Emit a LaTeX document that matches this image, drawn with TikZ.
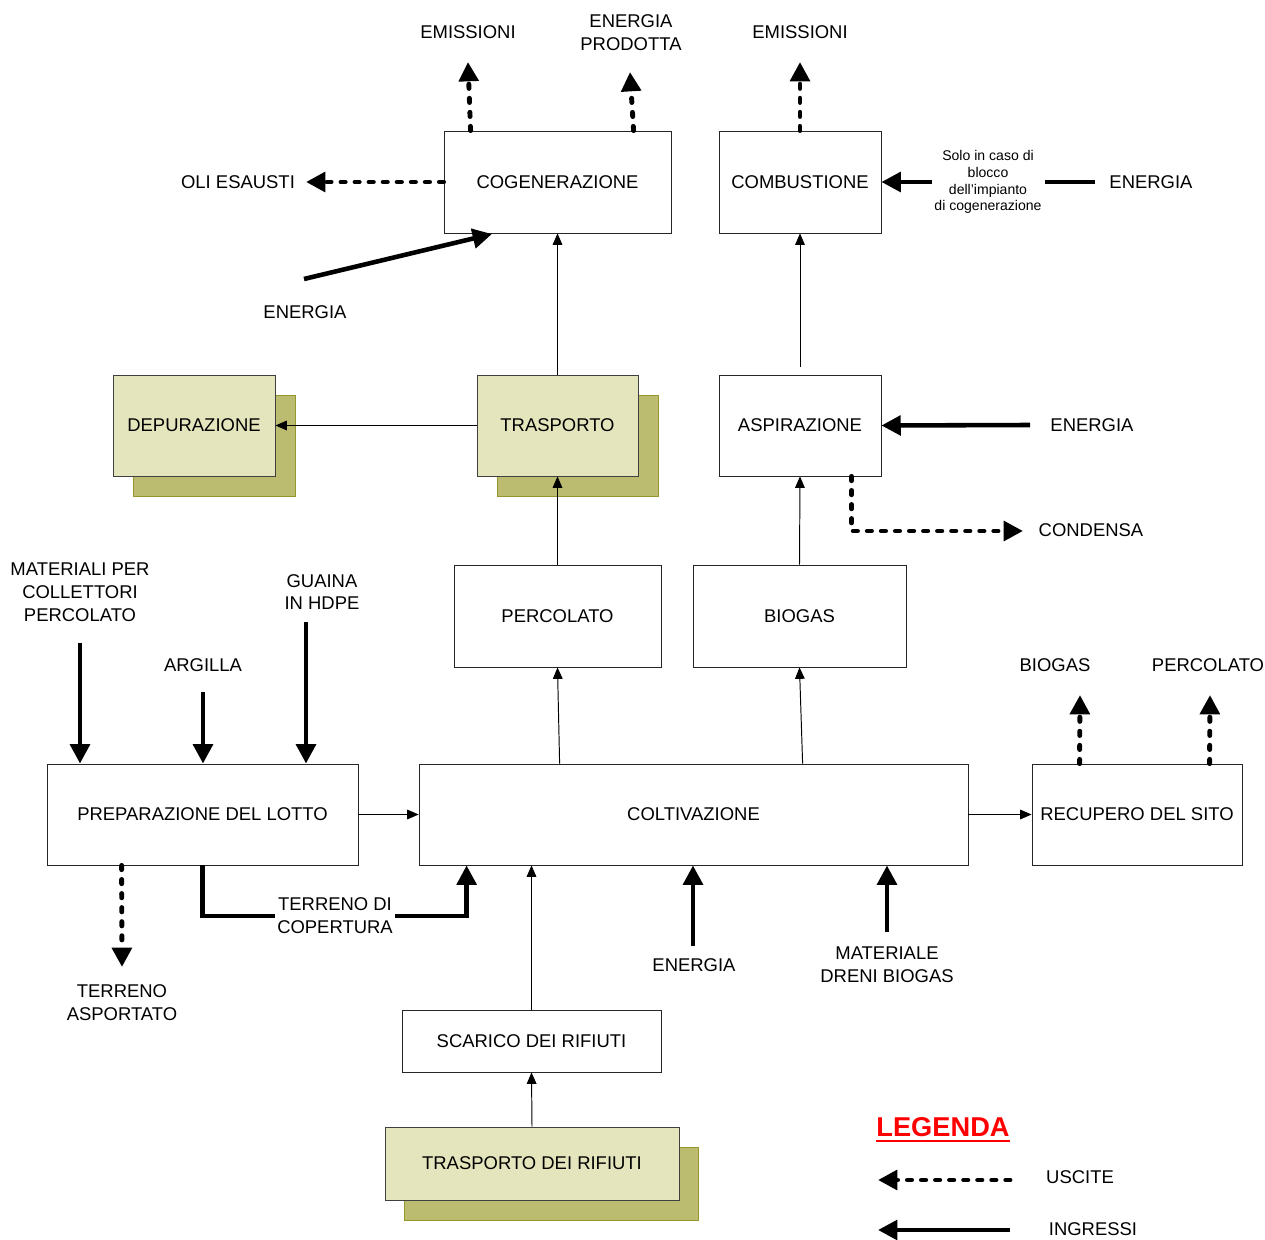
\documentclass[tikz,border=0pt]{standalone}
\usepackage{fontspec}
\setmainfont{Liberation Sans}
\usetikzlibrary{arrows.meta,calc}
\definecolor{frontfill}{RGB}{228,229,188}
\definecolor{backfill}{RGB}{188,188,112}
\definecolor{backdraw}{RGB}{150,150,45}
\begin{document}
\begin{tikzpicture}[x=0.02cm,y=-0.02cm, font=\fontsize{10.5}{13}\selectfont,
 box/.style={draw=black!85, line width=0.5pt, fill=white, inner sep=0pt, align=center},
 fbox/.style={box, fill=frontfill, draw=black!75},
 sbox/.style={draw=backdraw, line width=0.5pt, fill=backfill, inner sep=0pt},
 thin/.style={line width=0.55pt, -{Triangle[length=6.5pt,width=5.5pt]}},
 inline/.style={line width=2.6pt},
 inarrow/.style={line width=2.6pt, -{Triangle[length=11pt,width=11pt]}},
 outarrow/.style={line width=2.8pt, line cap=round, dash pattern=on 2.4pt off 5.6pt, -{Triangle[length=11pt,width=11pt]}},
 lbl/.style={align=center, inner sep=1pt}]
\useasboundingbox (0,0) rectangle (1265,1240);
\fill[white] (0,0) rectangle (1265,1240);

% shadow boxes
\node[sbox, minimum width=3.24cm, minimum height=2.02cm] (depS) at (214,446) {};
\node[sbox, minimum width=3.22cm, minimum height=2.02cm] (traS) at (577.5,446) {};
\node[sbox, minimum width=5.88cm, minimum height=1.46cm] (trdS) at (551,1183.5) {};

% boxes
\node[box, minimum width=4.54cm, minimum height=2.04cm] (cogen) at (557.5,182) {COGENERAZIONE};
\node[box, minimum width=3.24cm, minimum height=2.04cm] (comb) at (800,182) {COMBUSTIONE};
\node[fbox, minimum width=3.24cm, minimum height=2.02cm] (dep) at (194,425.5) {DEPURAZIONE};
\node[fbox, minimum width=3.22cm, minimum height=2.02cm] (tra) at (557.5,425.5) {TRASPORTO};
\node[box, minimum width=3.24cm, minimum height=2.02cm] (asp) at (800,425.5) {ASPIRAZIONE};
\node[box, minimum width=4.14cm, minimum height=2.04cm] (perc) at (557.5,616) {PERCOLATO};
\node[box, minimum width=4.26cm, minimum height=2.04cm] (bio) at (799.5,616) {BIOGAS};
\node[box, minimum width=6.22cm, minimum height=2.02cm] (prep) at (202.5,814.5) {PREPARAZIONE DEL LOTTO};
\node[box, minimum width=10.98cm, minimum height=2.02cm] (colt) at (693.5,814.5) {COLTIVAZIONE};
\node[box, minimum width=4.20cm, minimum height=2.02cm] (rec) at (1137,814.5) {RECUPERO DEL SITO};
\node[box, minimum width=5.18cm, minimum height=1.24cm] (scar) at (531.5,1041) {SCARICO DEI RIFIUTI};
\node[fbox, minimum width=5.88cm, minimum height=1.46cm] (trd) at (532,1163.5) {TRASPORTO DEI RIFIUTI};

% labels
\node[lbl] (em1) at (468,32) {EMISSIONI};
\node[lbl] (enp) at (631,33) {ENERGIA\\PRODOTTA};
\node[lbl] (em2) at (800,32) {EMISSIONI};
\node[lbl] (oli) at (238,182) {OLI ESAUSTI};
\node[lbl] (en1) at (305,312) {ENERGIA};
\node[lbl] (en2) at (1151,182) {ENERGIA};
\node[lbl, font=\fontsize{8}{9.6}\selectfont] (note) at (988,182) {Solo in caso di\\blocco\\dell’impianto\\di cogenerazione};
\node[lbl] (en3) at (1092,425) {ENERGIA};
\node[lbl] (cond) at (1091,530) {CONDENSA};
\node[lbl] (mat) at (80,592) {MATERIALI PER\\COLLETTORI\\PERCOLATO};
\node[lbl] (arg) at (203,665) {ARGILLA};
\node[lbl] (gua) at (322,592) {GUAINA\\IN HDPE};
\node[lbl] (rbio) at (1055,665) {BIOGAS};
\node[lbl] (rperc) at (1208,665) {PERCOLATO};
\node[lbl] (terr) at (335,916) {TERRENO DI\\COPERTURA};
\node[lbl] (asport) at (122,1003) {TERRENO\\ASPORTATO};
\node[lbl] (en4) at (694,965) {ENERGIA};
\node[lbl] (dreni) at (887,965) {MATERIALE\\DRENI BIOGAS};
\node[lbl] (usc) at (1080,1177) {USCITE};
\node[lbl] (ing) at (1093,1229) {INGRESSI};
\node[inner sep=0pt, anchor=base, text=red, font=\bfseries\fontsize{15.5}{18}\selectfont] (leg) at (943,1136) {LEGENDA};
\draw[red, line width=1.6pt] ($(leg.base west)+(0,5)$) -- ($(leg.base east)+(0,5)$);

% coordinates for free ends
\coordinate (em1t) at (468,62);
\coordinate (enpt) at (630,72);
\coordinate (em2t) at (800,62);
\coordinate (olit) at (306,182);
\coordinate (en1s) at (304,279);
\coordinate (en1t) at (492,234);
\coordinate (condt) at (1023,531);
\coordinate (mats) at (80,643);
\coordinate (args) at (203,692);
\coordinate (guas) at (306,622);
\coordinate (rbiot) at (1080,695);
\coordinate (rperct) at (1210,695);
\coordinate (asportt) at (122,967);
\coordinate (en4s) at (693,946);
\coordinate (drenis) at (887,932);
\coordinate (en3s) at (1030,425);
\coordinate (l1a) at (1010,1180);
\coordinate (l1b) at (878,1180);
\coordinate (l2a) at (1010,1230);
\coordinate (l2b) at (878,1230);

% thin flows
\draw[thin] (tra.north) -- (cogen.south);
\draw[thin] (tra.west) -- (dep.east);
\draw[thin] (perc.north) -- (tra.south);
\draw[thin] ($(colt.north west)+(141,0)$) -- (perc.south);
\draw[thin] ($(colt.north west)+(384,0)$) -- (bio.south);
\draw[thin] (bio.north) -- (asp.south);
\draw[thin, shorten <=4.5pt] (asp.north) -- (comb.south);
\draw[thin] (prep.east) -- (colt.west);
\draw[thin] (colt.east) -- (rec.west);
\draw[thin] (scar.north) -- (scar.north |- colt.south);
\draw[thin] (trd.north) -- (scar.south);

% inputs
\draw[inarrow] (en1s) -- (en1t);
\draw[inline, shorten <=7pt, shorten >=1pt] (en2.west) -- (note.east);
\draw[inarrow] (note.west) -- (comb.east);
\draw[inarrow] (en3s) -- (asp.east);
\draw[inarrow] (mats) -- (mats |- prep.north);
\draw[inarrow] (args) -- (args |- prep.north);
\draw[inarrow] (guas) -- (guas |- prep.north);
\draw[inline] (prep.south) |- (terr.west);
\draw[inarrow] (terr.east) -| ($(colt.south west)+(48,0)$);
\draw[inarrow] (en4s) -- (en4s |- colt.south);
\draw[inarrow] (drenis) -- (drenis |- colt.south);

% outputs
\draw[outarrow] ($(cogen.north west)+(27,0)$) -- (em1t);
\draw[outarrow] ($(cogen.north west)+(190,0)$) -- (enpt);
\draw[outarrow] (cogen.west) -- (olit);
\draw[outarrow] (comb.north) -- (em2t);
\draw[outarrow] ($(asp.south west)+(133,0)$) |- (condt);
\draw[outarrow] ($(rec.north west)+(48,0)$) -- (rbiot);
\draw[outarrow] ($(rec.north west)+(178,0)$) -- (rperct);
\draw[outarrow] ($(prep.south west)+(75,0)$) -- (asportt);

% legend
\draw[outarrow] (l1a) -- (l1b);
\draw[inarrow] (l2a) -- (l2b);
\end{tikzpicture}
\end{document}
